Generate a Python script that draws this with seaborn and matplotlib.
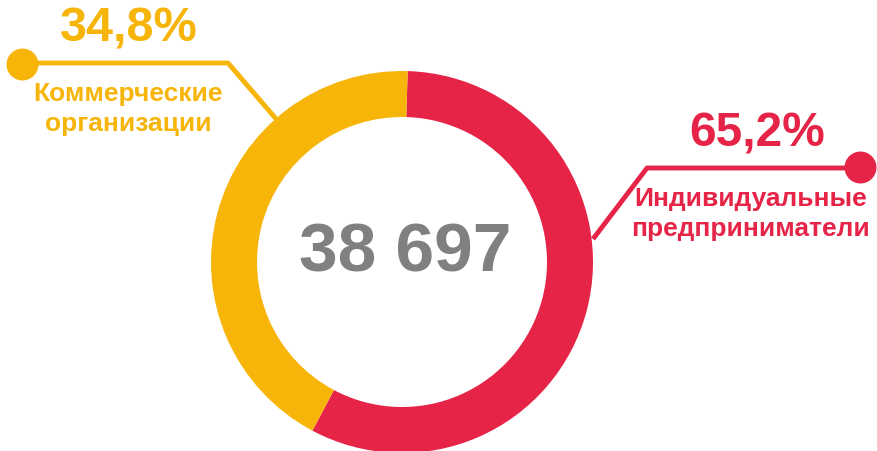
"""
Donut chart: share of individual entrepreneurs vs commercial organisations
"""

import seaborn as sns
import matplotlib.pyplot as plt

# data
categories = ["Индивидуальные\nпредприниматели", "Коммерческие\nорганизации"]
shares = [57.3, 42.7]          # ring as drawn in the picture
pct_labels = ["65,2%", "34,8%"]
total_label = "38 697"
colors = ["#E52447", "#F7B50A"]


def main():
    sns.set_theme(style="white")
    plt.rcParams["font.family"] = ["Liberation Sans", "DejaVu Sans"]

    W, H = 878, 452
    fig = plt.figure(figsize=(W / 100, H / 100), dpi=100)
    ax = fig.add_axes([0, 0, 1, 1])

    cx, cy = 402, H - 263
    ax.pie(shares, colors=colors, startangle=88.3, counterclock=False,
           center=(cx, cy), radius=191,
           wedgeprops=dict(width=46, linewidth=0))
    ax.set_xlim(0, W)
    ax.set_ylim(0, H)
    ax.set_aspect("equal")
    ax.axis("off")

    ax.text(cx + 3, H - 254, total_label, ha="center", va="center",
            fontsize=50, fontweight="bold", color="#808080")

    # leader for the red slice (right)
    red, yel = colors
    ax.plot([593, 647, 860], [H - 240, H - 169, H - 169], color=red, lw=3.5,
            solid_capstyle="butt")
    ax.plot([860], [H - 168], "o", color=red, ms=22)
    ax.text(757, H - 134, pct_labels[0], ha="center", va="center",
            fontsize=34.5, fontweight="bold", color=red)
    ax.text(751, H - 214, categories[0], ha="center", va="center",
            fontsize=19, fontweight="bold", color=red, linespacing=1.3)

    # leader for the yellow slice (left)
    ax.plot([22, 228, 277], [H - 64, H - 64, H - 121], color=yel, lw=3.5,
            solid_capstyle="butt")
    ax.plot([22], [H - 65], "o", color=yel, ms=22)
    ax.text(129, H - 29, pct_labels[1], ha="center", va="center",
            fontsize=35, fontweight="bold", color=yel)
    ax.text(128, H - 109, categories[1], ha="center", va="center",
            fontsize=19, fontweight="bold", color=yel, linespacing=1.3)

    fig.savefig("out.png", dpi=100)


if __name__ == "__main__":
    main()
